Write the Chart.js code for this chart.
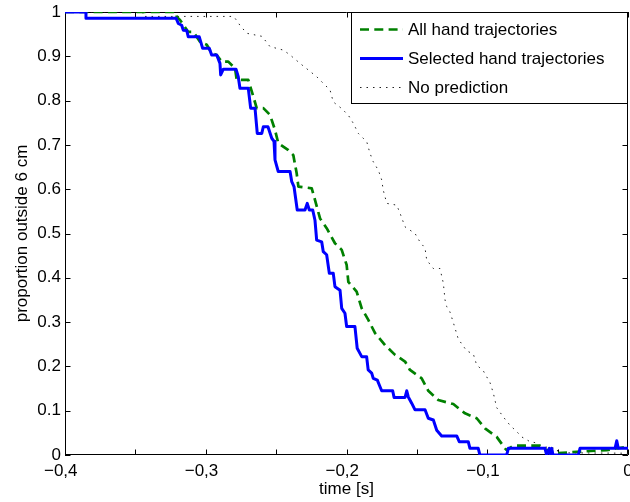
<!DOCTYPE html>
<html>
<head>
<meta charset="utf-8">
<script src="https://cdn.jsdelivr.net/npm/chart.js@4"></script>
<style>
  html, body { margin: 0; padding: 0; background: #ffffff; }
  canvas { display: block; }
</style>
</head>
<body>
<canvas id="c" width="630" height="502"></canvas>
<script>
// Survival-style curves: proportion of trials still outside 6 cm vs time before contact.

// All hand trajectories (green dashed)
const allTime = [-0.4, -0.3213, -0.3206, -0.3183, -0.3124, -0.3088, -0.3041, -0.2993, -0.2958, -0.2922,
  -0.2887, -0.2840, -0.2792, -0.2780, -0.2698, -0.2662, -0.2638, -0.2591, -0.2544, -0.2508,
  -0.2485, -0.2413, -0.2378, -0.2354, -0.2342, -0.2247, -0.2224, -0.2188, -0.2141, -0.2082,
  -0.2034, -0.1999, -0.1987, -0.1928, -0.1892, -0.1845, -0.1797, -0.1726, -0.1655, -0.1584,
  -0.1549, -0.1466, -0.1419, -0.1348, -0.1241, -0.1158, -0.1075, -0.1016, -0.0933, -0.0874,
  -0.0862, -0.0815, -0.0625, -0.0578, -0.0507, -0.0318, -0.0151, 0];
const allProp = [1, 1, 0.989, 0.982, 0.955, 0.955, 0.933, 0.926, 0.907, 0.903,
  0.888, 0.888, 0.873, 0.847, 0.847, 0.809, 0.783, 0.783, 0.768, 0.734,
  0.704, 0.688, 0.677, 0.636, 0.606, 0.602, 0.576, 0.534, 0.512, 0.478,
  0.463, 0.429, 0.391, 0.369, 0.331, 0.305, 0.275, 0.248, 0.226, 0.211,
  0.192, 0.173, 0.145, 0.124, 0.115, 0.094, 0.083, 0.060, 0.041, 0.015,
  0.011, 0.021, 0.021, 0.011, 0.004, 0.008, 0.011, 0.019];

// Selected hand trajectories (blue solid)
const selTime = [-0.4, -0.3851, -0.3851, -0.3211, -0.3195, -0.3171, -0.3160, -0.3135, -0.3124, -0.3046,
  -0.3022, -0.2975, -0.2958, -0.2922, -0.2899, -0.2894, -0.2875, -0.2785, -0.2769, -0.2757,
  -0.2698, -0.2681, -0.2650, -0.2634, -0.2602, -0.2591, -0.2558, -0.2531, -0.2515, -0.2508,
  -0.2485, -0.2401, -0.2389, -0.2373, -0.2350, -0.2295, -0.2279, -0.2264, -0.2240, -0.2224,
  -0.2212, -0.2176, -0.2165, -0.2141, -0.2122, -0.2094, -0.2082, -0.2046, -0.2034, -0.2011,
  -0.1999, -0.1940, -0.1924, -0.1892, -0.1857, -0.1846, -0.1821, -0.1810, -0.1781, -0.1767,
  -0.1750, -0.1672, -0.1662, -0.1584, -0.1572, -0.1561, -0.1537, -0.1513, -0.1442, -0.1419,
  -0.1383, -0.1359, -0.1324, -0.1217, -0.1199, -0.1135, -0.1123, -0.1064, -0.1052, -0.0862,
  -0.0850, -0.0590, -0.0578, -0.0559, -0.0551, -0.0542, -0.0533, -0.0353, -0.0341, -0.0092,
  -0.0080, -0.0069, 0];
const selProp = [1, 1, 0.986, 0.986, 0.974, 0.970, 0.959, 0.958, 0.944, 0.944,
  0.918, 0.918, 0.903, 0.903, 0.884, 0.858, 0.871, 0.871, 0.854, 0.828,
  0.828, 0.783, 0.783, 0.726, 0.726, 0.741, 0.741, 0.715, 0.708, 0.666,
  0.640, 0.640, 0.617, 0.606, 0.553, 0.553, 0.568, 0.553, 0.553, 0.530,
  0.485, 0.481, 0.459, 0.452, 0.410, 0.410, 0.380, 0.372, 0.331, 0.320,
  0.290, 0.290, 0.241, 0.222, 0.222, 0.192, 0.185, 0.173, 0.169, 0.158,
  0.145, 0.145, 0.130, 0.130, 0.145, 0.131, 0.117, 0.102, 0.102, 0.083,
  0.079, 0.056, 0.043, 0.043, 0.030, 0.030, 0.015, 0.015, 0, 0,
  0.015, 0.015, 0, 0.015, 0, 0.015, 0, 0, 0.015, 0.015,
  0.032, 0.015, 0.015];

// No prediction (black dotted)
const noneTime = [-0.4, -0.3446, -0.3446, -0.2806, -0.2792, -0.2757, -0.2709, -0.2600, -0.2544, -0.2449,
  -0.2401, -0.2330, -0.2271, -0.2212, -0.2165, -0.2117, -0.2094, -0.2034, -0.1987, -0.1952,
  -0.1916, -0.1856, -0.1833, -0.1810, -0.1774, -0.1750, -0.1739, -0.1714, -0.1643, -0.1620,
  -0.1584, -0.1513, -0.1478, -0.1442, -0.1430, -0.1383, -0.1336, -0.1312, -0.1300, -0.1288,
  -0.1265, -0.1241, -0.1206, -0.1146, -0.1099, -0.1075, -0.1028, -0.0980, -0.0957, -0.0933,
  -0.0886, -0.0838, -0.0791, -0.0756, -0.0696, -0.0661, -0.0613, -0.0507, -0.0495, 0];
const noneProp = [1, 1, 0.99, 0.99, 0.986, 0.970, 0.952, 0.945, 0.922, 0.914,
  0.903, 0.884, 0.869, 0.854, 0.839, 0.824, 0.797, 0.782, 0.767, 0.749,
  0.726, 0.707, 0.681, 0.662, 0.643, 0.621, 0.598, 0.568, 0.564, 0.546,
  0.515, 0.500, 0.481, 0.467, 0.440, 0.421, 0.421, 0.388, 0.350, 0.335,
  0.323, 0.299, 0.262, 0.235, 0.228, 0.203, 0.190, 0.163, 0.140, 0.107,
  0.086, 0.067, 0.053, 0.041, 0.030, 0.028, 0.019, 0.015, 0.005, 0.004];

const seriesLabels = ['All hand trajectories', 'Selected hand trajectories', 'No prediction'];

const xMin = -0.4, xMax = 0, xStep = 0.05;
const yMin = 0, yMax = 1, yStep = 0.1;

const FONT = '"Liberation Sans", Arial, Helvetica, sans-serif';
Chart.defaults.font.family = FONT;
Chart.defaults.font.size = 17;
Chart.defaults.color = '#000000';

const toPoints = (xs, ys) => xs.map((x, i) => ({ x: x, y: ys[i] }));

// x labels: only every 0.1, comma decimal, true minus sign
function formatTime(v) {
  const tenths = Math.round(v * 10);
  if (Math.abs(v * 10 - tenths) > 1e-6) return '';
  if (tenths === 0) return '0';
  const s = Math.abs(tenths / 10).toFixed(1).replace('.', ',');
  return (tenths < 0 ? '\u2212' : '') + s + '\u2002';
}

// Box frame with inward tick marks on all four sides
const framePlugin = {
  id: 'frame',
  beforeDatasetsDraw(chart) {
    const { ctx, chartArea: a, scales } = chart;
    const len = 5.5;
    ctx.save();
    ctx.strokeStyle = '#000000';
    ctx.lineWidth = 1;
    ctx.beginPath();
    ctx.rect(Math.round(a.left) + 0.5, Math.round(a.top) + 0.5,
      Math.round(a.right - a.left) - 1, Math.round(a.bottom - a.top) - 1);
    for (const t of scales.x.ticks) {
      const px = Math.round(scales.x.getPixelForValue(t.value)) + 0.5;
      ctx.moveTo(px, a.bottom); ctx.lineTo(px, a.bottom - len);
      ctx.moveTo(px, a.top); ctx.lineTo(px, a.top + len);
    }
    for (const t of scales.y.ticks) {
      const py = Math.round(scales.y.getPixelForValue(t.value)) + 0.5;
      ctx.moveTo(a.left, py); ctx.lineTo(a.left + len, py);
      ctx.moveTo(a.right, py); ctx.lineTo(a.right - len, py);
    }
    ctx.stroke();
    ctx.restore();
  }
};

// Legend box in the upper-right corner of the plot
const boxLegend = {
  id: 'boxLegend',
  afterDatasetsDraw(chart) {
    const { ctx, chartArea: a } = chart;
    const w = 277, h = 92;
    const x0 = Math.round(a.right - w), y0 = Math.round(a.top);
    ctx.save();
    ctx.fillStyle = '#ffffff';
    ctx.fillRect(x0, y0, w, h);
    ctx.strokeStyle = '#000000';
    ctx.lineWidth = 1;
    ctx.strokeRect(x0 + 0.5, y0 + 0.5, w - 1, h - 1);
    ctx.font = '17px ' + FONT;
    ctx.textBaseline = 'middle';
    ctx.fillStyle = '#000000';
    chart.data.datasets.forEach((ds, i) => {
      const y = y0 + 17.5 + i * 29;
      ctx.beginPath();
      ctx.strokeStyle = ds.borderColor;
      ctx.lineWidth = ds.borderWidth;
      ctx.setLineDash(ds.borderDash || []);
      ctx.moveTo(x0 + 9, y);
      ctx.lineTo(x0 + 52, y);
      ctx.stroke();
      ctx.setLineDash([]);
      ctx.fillText(ds.label, x0 + 57, y + 0.5);
    });
    ctx.restore();
  }
};

const chart = new Chart(document.getElementById('c'), {
  type: 'line',
  data: {
    datasets: [
      {
        label: seriesLabels[0],
        data: toPoints(allTime, allProp),
        borderColor: '#008000',
        borderWidth: 2.7,
        borderDash: [9, 5.3],
        order: 1
      },
      {
        label: seriesLabels[1],
        data: toPoints(selTime, selProp),
        borderColor: '#0000ff',
        borderWidth: 3,
        order: 0
      },
      {
        label: seriesLabels[2],
        data: toPoints(noneTime, noneProp),
        borderColor: '#222222',
        borderWidth: 1,
        borderDash: [1.5, 5],
        order: 2
      }
    ]
  },
  options: {
    responsive: false,
    animation: false,
    events: [],
    elements: {
      point: { radius: 0 },
      line: { tension: 0, fill: false, borderJoinStyle: 'round' }
    },
    layout: { padding: { left: 0, top: 12, right: 2, bottom: 0 } },
    plugins: {
      legend: { display: false },
      tooltip: { enabled: false }
    },
    scales: {
      x: {
        type: 'linear',
        min: xMin,
        max: xMax,
        grid: { display: false, drawTicks: false },
        border: { display: false },
        ticks: {
          stepSize: xStep,
          autoSkip: false,
          maxRotation: 0,
          padding: 6,
          color: '#000000',
          callback: v => formatTime(v)
        },
        title: {
          display: true,
          text: 'time [s]',
          color: '#000000',
          padding: { top: 0, bottom: 2 }
        },
        afterFit(scale) {
          scale.height = 47;
          scale.paddingLeft = 0;
          scale.paddingRight = 0;
        }
      },
      y: {
        type: 'linear',
        min: yMin,
        max: yMax,
        grid: { display: false, drawTicks: false },
        border: { display: false },
        ticks: {
          stepSize: yStep,
          padding: 4,
          color: '#000000',
          callback: v => String(+v.toFixed(1))
        },
        title: {
          display: true,
          text: 'proportion outside 6 cm',
          color: '#000000',
          padding: { top: 12, bottom: 0 }
        },
        afterFit(scale) {
          scale.width = 65;
          scale.paddingTop = 0;
          scale.paddingBottom = 0;
        }
      }
    }
  },
  plugins: [framePlugin, boxLegend]
});
</script>
</body>
</html>
